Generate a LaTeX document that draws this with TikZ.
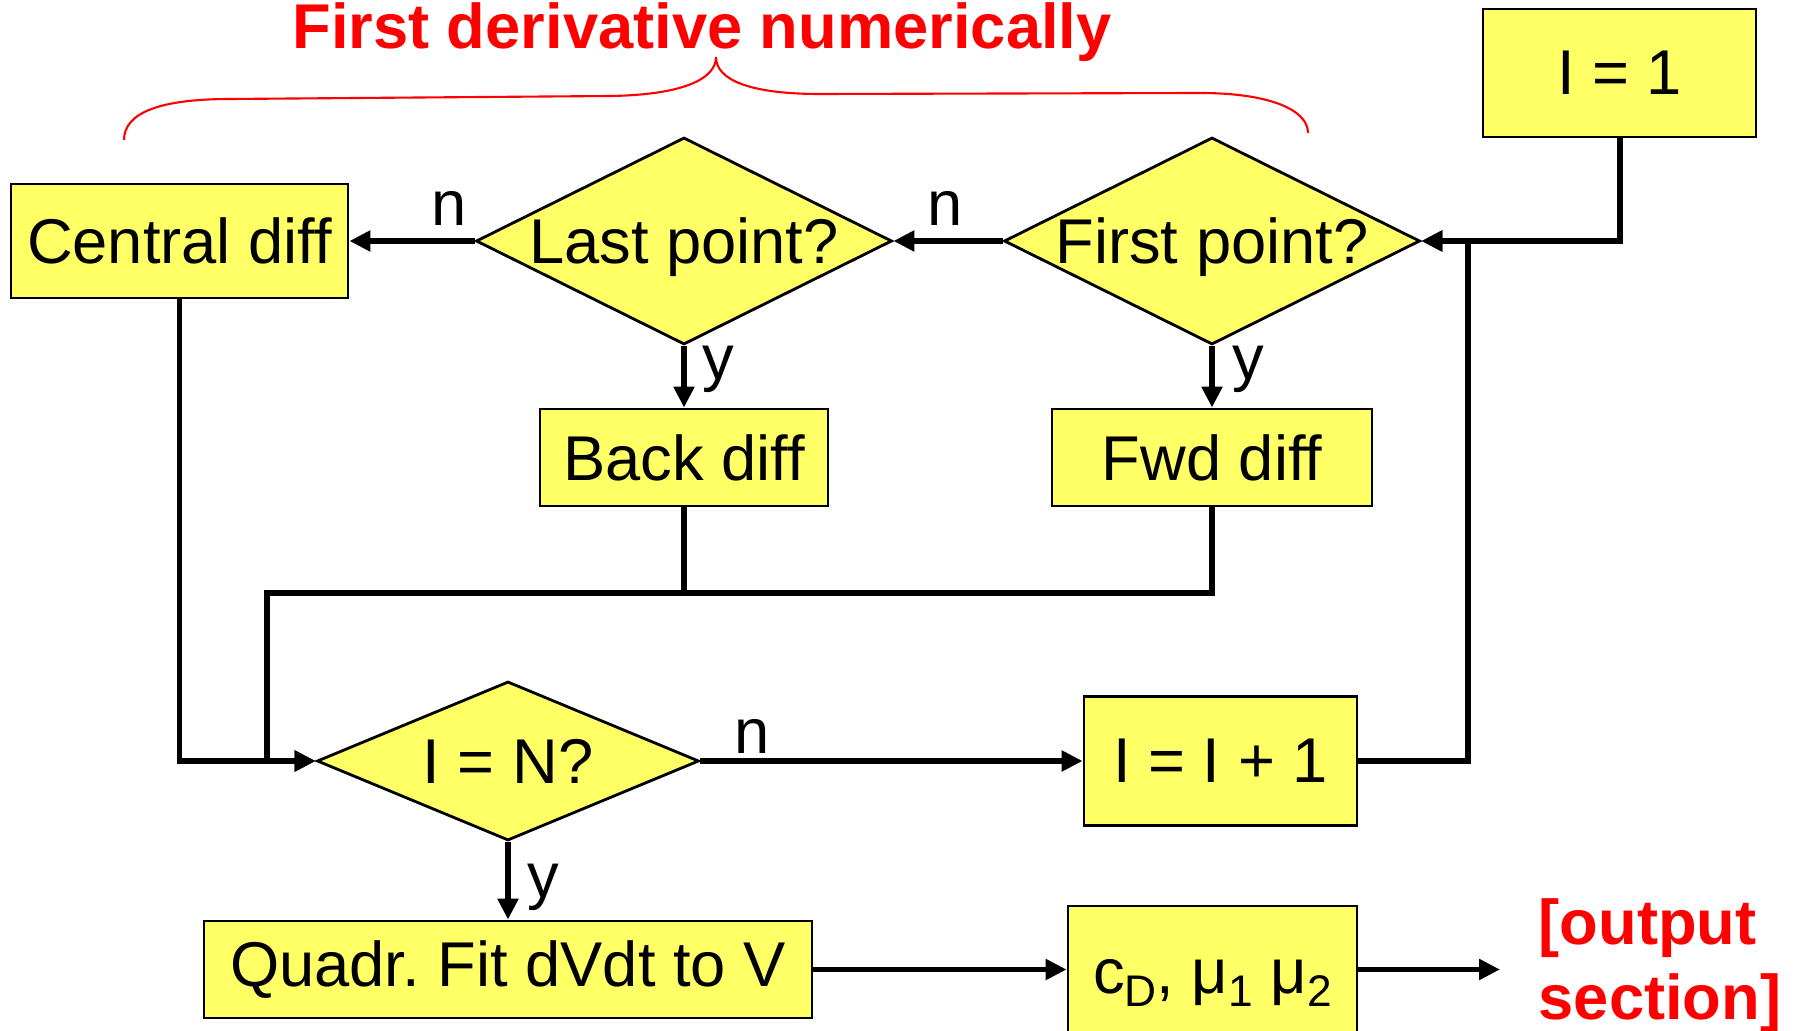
\documentclass[tikz,border=0pt]{standalone}
\usepackage{fontspec}
\setmainfont{Liberation Sans}
\usetikzlibrary{shapes.geometric,arrows.meta}
\definecolor{boxyellow}{HTML}{FFFF66}
\definecolor{notered}{HTML}{FF0000}
\newcommand{\lowsub}[1]{\raisebox{-0.22em}{\fontsize{12.6}{14}\selectfont #1}}
\frenchspacing

\begin{document}
\begin{tikzpicture}[x=1cm,y=1cm,
  every node/.style={font=\fontsize{18}{21.3}\selectfont},
  box/.style={draw,line width=0.8pt,fill=boxyellow,inner sep=0pt},
  decision/.style={diamond,draw,line width=0.8pt,fill=boxyellow,inner sep=0pt,text depth=0pt},
  flow/.style={line width=1.7pt,-{Triangle[length=0.21cm,width=0.2cm]}},
  link/.style={line width=1.7pt},
  lbl/.style={inner sep=0pt},
  note/.style={text=notered,font=\fontsize{18}{21.3}\selectfont\bfseries}]
\useasboundingbox (0,0) rectangle (17.95,-10.31);

% title and brace
\node[note,anchor=base] (title) at (7.02,-0.49) {First derivative numerically};
\draw[notered,line width=0.6pt] (1.24,-1.40) .. controls (1.24,-1.12) and (1.62,-0.99) .. (2.30,-0.99)
  -- (6.10,-0.96) .. controls (6.80,-0.95) and (7.16,-0.80) .. (7.16,-0.57)
  .. controls (7.16,-0.80) and (7.50,-0.94) .. (8.20,-0.94)
  -- (12.00,-0.93) .. controls (12.70,-0.93) and (13.08,-1.10) .. (13.08,-1.33);

% nodes
\node[box,minimum width=2.73cm,minimum height=1.28cm] (init) at (16.195,-0.73) {I = 1};
\node[decision,minimum width=4.16cm,minimum height=2.07cm] (firstpt) at (12.12,-2.41) {\makebox[0pt]{First point?}};
\node[decision,minimum width=4.16cm,minimum height=2.07cm] (lastpt) at (6.84,-2.41) {\makebox[0pt]{Last point?}};
\node[box,minimum width=3.37cm,minimum height=1.14cm] (central) at (1.795,-2.41) {Central diff};
\node[box,minimum width=2.88cm,minimum height=0.97cm] (backdiff) at (6.84,-4.575) {Back diff};
\node[box,minimum width=3.20cm,minimum height=0.97cm] (fwddiff) at (12.12,-4.575) {Fwd diff};
\node[decision,minimum width=3.82cm,minimum height=1.59cm] (isn) at (5.08,-7.61) {\makebox[0pt]{I = N?}};
\node[box,minimum width=2.73cm,minimum height=1.29cm] (incr) at (12.205,-7.61) {I = I + 1};
\node[box,minimum width=6.08cm,minimum height=0.97cm] (fit) at (5.08,-9.695) {Quadr. Fit dVdt to V};
\node[box,minimum width=2.89cm,minimum height=1.27cm,text height=0.6cm,text depth=0.13cm] (coef) at (12.125,-9.695)
  {c\lowsub{D}, μ\lowsub{1} μ\lowsub{2}};
\node[note,align=left,anchor=north west,inner sep=0pt] (output) at (15.38,-8.98) {[output\\section]};

% labels
\node[lbl] (n1) at (4.49,-2.08) {n};
\node[lbl] (n2) at (9.45,-2.08) {n};
\node[lbl] (y1) at (7.18,-3.69) {y};
\node[lbl] (y2) at (12.48,-3.69) {y};
\node[lbl] (n3) at (7.52,-7.36) {n};
\node[lbl] (y3) at (5.43,-8.87) {y};

% connectors
\coordinate (merge) at (2.67,-5.93);
\coordinate (loop) at (14.68,-2.41);
\coordinate (outtip) at (15.00,-9.695);
\draw[flow] (init.south) |- (firstpt.east);
\draw[flow] (incr.east) -| (loop) -- (firstpt.east);
\draw[flow] (firstpt.west) -- (lastpt.east);
\draw[flow] (lastpt.west) -- (central.east);
\draw[flow] (firstpt.south) -- (fwddiff.north);
\draw[flow] (lastpt.south) -- (backdiff.north);
\draw[link] (backdiff.south) -- (backdiff.south |- merge);
\draw[flow] (fwddiff.south) |- (merge) |- (isn.west);
\draw[flow] (central.south) |- (isn.west);
\draw[flow] (isn.east) -- (incr.west);
\draw[flow] (isn.south) -- (fit.north);
\draw[flow] (fit.east) -- (coef.west);
\draw[flow] (coef.east) -- (outtip);
\end{tikzpicture}
\end{document}
